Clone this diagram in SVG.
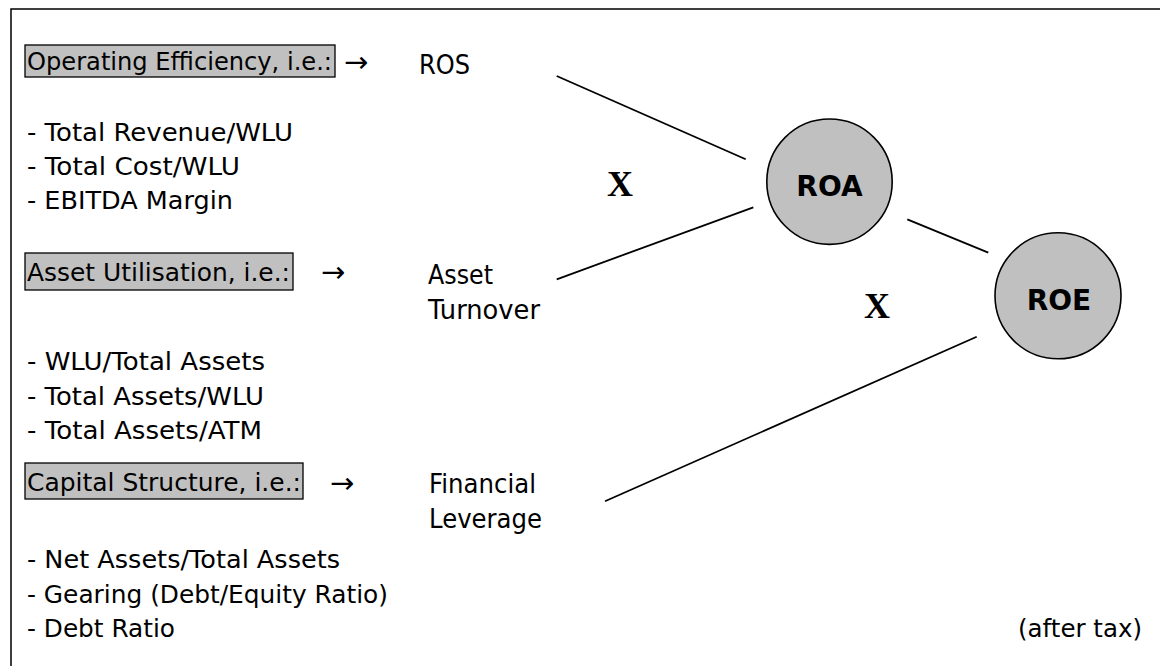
<svg xmlns="http://www.w3.org/2000/svg" width="1160" height="666" viewBox="0 0 1160 666">
<style>
.t{font-family:"DejaVu Sans","Liberation Sans",sans-serif;font-size:25px;fill:#000}
.a{font-family:"DejaVu Sans","Liberation Sans",sans-serif;font-size:29px;fill:#000}
.r{font-family:"DejaVu Sans","Liberation Sans",sans-serif;font-size:26px;fill:#000}
.b{font-family:"DejaVu Sans","Liberation Sans",sans-serif;font-size:28px;font-weight:bold;fill:#000;text-anchor:middle}
.x{font-family:"Liberation Serif","Times New Roman",serif;font-size:36px;font-weight:bold;fill:#000}
.box{fill:#c0c0c0;stroke:#000;stroke-width:1.3}
.node{fill:#c0c0c0;stroke:#000;stroke-width:1.6}
.ln{stroke:#000;stroke-width:1.8;fill:none}
</style>
<rect x="0" y="0" width="1160" height="666" fill="#fff"/>
<rect x="11" y="9" width="1200" height="700" fill="none" stroke="#000" stroke-width="1.5"/>

<g id="operating">
<rect class="box" x="25" y="45" width="310" height="32"/>
<text class="t" x="27" y="70" textLength="305" lengthAdjust="spacingAndGlyphs">Operating Efficiency, i.e.:</text>
<text class="a" x="344" y="72">→</text>
<text class="r" x="419" y="74" textLength="51" lengthAdjust="spacingAndGlyphs">ROS</text>
<text class="t" x="27" y="141" textLength="266" lengthAdjust="spacingAndGlyphs">- Total Revenue/WLU</text>
<text class="t" x="27" y="175" textLength="213" lengthAdjust="spacingAndGlyphs">- Total Cost/WLU</text>
<text class="t" x="27" y="209" textLength="206" lengthAdjust="spacingAndGlyphs">- EBITDA Margin</text>
</g>

<g id="asset">
<rect class="box" x="25" y="253" width="268" height="37"/>
<text class="t" x="27" y="281" textLength="263" lengthAdjust="spacingAndGlyphs">Asset Utilisation, i.e.:</text>
<text class="a" x="321" y="282">→</text>
<text class="r" x="428" y="284" textLength="65" lengthAdjust="spacingAndGlyphs">Asset</text>
<text class="r" x="428" y="319" textLength="112" lengthAdjust="spacingAndGlyphs">Turnover</text>
<text class="t" x="27" y="370" textLength="238" lengthAdjust="spacingAndGlyphs">- WLU/Total Assets</text>
<text class="t" x="27" y="405" textLength="237" lengthAdjust="spacingAndGlyphs">- Total Assets/WLU</text>
<text class="t" x="27" y="439" textLength="235" lengthAdjust="spacingAndGlyphs">- Total Assets/ATM</text>
</g>

<g id="capital">
<rect class="box" x="25" y="463" width="278" height="36"/>
<text class="t" x="27" y="491" textLength="274" lengthAdjust="spacingAndGlyphs">Capital Structure, i.e.:</text>
<text class="a" x="330" y="493">→</text>
<text class="r" x="429" y="493" textLength="107" lengthAdjust="spacingAndGlyphs">Financial</text>
<text class="r" x="429" y="528" textLength="113" lengthAdjust="spacingAndGlyphs">Leverage</text>
<text class="t" x="27" y="568" textLength="313" lengthAdjust="spacingAndGlyphs">- Net Assets/Total Assets</text>
<text class="t" x="27" y="603" textLength="361" lengthAdjust="spacingAndGlyphs">- Gearing (Debt/Equity Ratio)</text>
<text class="t" x="27" y="637" textLength="148" lengthAdjust="spacingAndGlyphs">- Debt Ratio</text>
</g>

<g id="roa">
<circle class="node" cx="829.5" cy="181.7" r="62.7"/>
<text class="b" x="829.5" y="196">ROA</text>
</g>

<g id="roe">
<circle class="node" cx="1058" cy="295.8" r="63"/>
<text class="b" x="1059" y="310">ROE</text>
</g>

<g id="labels">
<text class="x" x="607" y="196">X</text>
<text class="x" x="864" y="318">X</text>
<text class="t" x="1018" y="637" textLength="124" lengthAdjust="spacingAndGlyphs">(after tax)</text>
</g>

<g id="connectors">
<line class="ln" x1="556.7" y1="76" x2="745.7" y2="159.3"/>
<line class="ln" x1="556.7" y1="279.3" x2="753.3" y2="207.3"/>
<line class="ln" x1="907.3" y1="219.3" x2="988.3" y2="252.7"/>
<line class="ln" x1="976.7" y1="336.7" x2="605" y2="501.3"/>
</g>
</svg>
